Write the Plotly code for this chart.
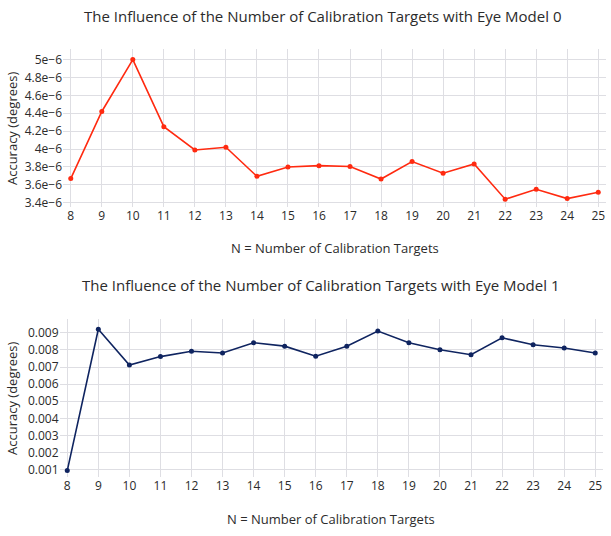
import plotly.graph_objects as go

# Number of calibration targets used for each run
n_targets = list(range(8, 26))

# Mean accuracy (degrees) for eye model 0
accuracy_model0 = [3.67e-6, 4.42e-6, 5.00e-6, 4.25e-6, 3.99e-6, 4.02e-6, 3.695e-6, 3.80e-6,
                   3.815e-6, 3.805e-6, 3.665e-6, 3.86e-6, 3.73e-6, 3.833e-6, 3.44e-6,
                   3.55e-6, 3.447e-6, 3.518e-6]

# Mean accuracy (degrees) for eye model 1
accuracy_model1 = [0.00095, 0.00921, 0.00712, 0.00761, 0.00792, 0.00782, 0.00842, 0.00822,
                   0.00763, 0.00821, 0.00910, 0.00842, 0.00801, 0.00772, 0.00871, 0.00830,
                   0.00811, 0.00782]

titles = ["The Influence of the Number of Calibration Targets with Eye Model 0",
          "The Influence of the Number of Calibration Targets with Eye Model 1"]
x_title = "N = Number of Calibration Targets"
y_title = "Accuracy (degrees)"

W, H = 611, 536
FONT = "Open Sans"
TEXT = "#2b2b2b"
GRID = "#dedee3"

fig = go.Figure()
fig.add_trace(go.Scatter(x=n_targets, y=accuracy_model0, mode="lines+markers",
                         line=dict(color="#ff2a10", width=1.6),
                         marker=dict(color="#ff2a10", size=5),
                         xaxis="x", yaxis="y", showlegend=False))
fig.add_trace(go.Scatter(x=n_targets, y=accuracy_model1, mode="lines+markers",
                         line=dict(color="#0f2460", width=1.6),
                         marker=dict(color="#0f2460", size=5),
                         xaxis="x2", yaxis="y2", showlegend=False))

axis_common = dict(showgrid=True, gridcolor=GRID, gridwidth=1, zeroline=False,
                   showline=False, ticks="", tickfont=dict(size=12, color=TEXT, family=FONT))

fig.update_layout(
    width=W, height=H,
    margin=dict(l=0, r=0, t=0, b=0),
    paper_bgcolor="white", plot_bgcolor="white",
    font=dict(family=FONT, color=TEXT),
    xaxis=dict(domain=[63 / W, 606 / W], range=[7.75, 25.25], dtick=1, anchor="y",
               **axis_common),
    yaxis=dict(domain=[(H - 209) / H, (H - 49) / H], range=[3.348e-6, 5.122e-6],
               dtick=0.2e-6, tick0=0, exponentformat="e", anchor="x", **axis_common),
    xaxis2=dict(domain=[59.5 / W, 603 / W], range=[7.75, 25.25], dtick=1, anchor="y2",
                **axis_common),
    yaxis2=dict(domain=[(H - 481) / H, (H - 321) / H], range=[0.00055, 0.00983],
                dtick=0.001, tick0=0, anchor="x2", **axis_common),
)

annotations = [
    # chart titles
    dict(text=titles[0], x=322 / W, y=(H - 16) / H, font=dict(size=15)),
    dict(text=titles[1], x=320 / W, y=(H - 287) / H, font=dict(size=15)),
    # x-axis titles
    dict(text=x_title, x=335 / W, y=(H - 250) / H, font=dict(size=13)),
    dict(text=x_title, x=331 / W, y=(H - 523) / H, font=dict(size=13)),
    # y-axis titles
    dict(text=y_title, x=12 / W, y=(H - 129) / H, textangle=-90, font=dict(size=13)),
    dict(text=y_title, x=12 / W, y=(H - 401) / H, textangle=-90, font=dict(size=13)),
]
for a in annotations:
    a.update(xref="paper", yref="paper", showarrow=False, xanchor="center", yanchor="middle")
    a["font"].update(family=FONT, color=TEXT)
fig.update_layout(annotations=annotations)

fig.write_html("out.html")
